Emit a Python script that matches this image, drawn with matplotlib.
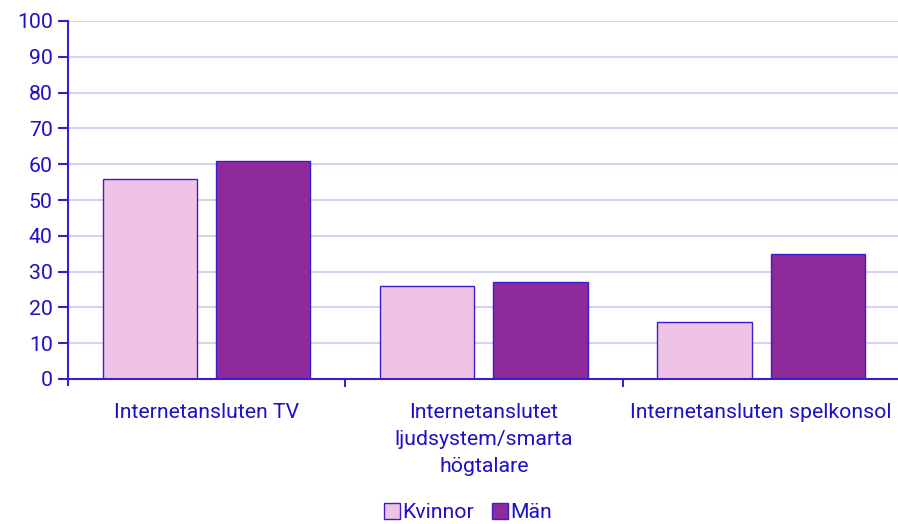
import matplotlib
matplotlib.use("Agg")
import matplotlib.pyplot as plt
import numpy as np
from matplotlib.patches import Patch

categories = ["Internetansluten TV", "Internetanslutet\nljudsystem/smarta\nhögtalare", "Internetansluten spelkonsol"]
series_names = ["Kvinnor", "Män"]
kvinnor = [56, 26, 16]
man = [61, 27, 35]
yticks = [0, 10, 20, 30, 40, 50, 60, 70, 80, 90, 100]

text_color = "#1E10C4"
edge_color = "#3A1FD0"
colors = ["#EFC3E6", "#8F2A9A"]
grid_color = "#D4D4EE"

plt.rcParams['font.family'] = ['Roboto', 'DejaVu Sans']
fs = 15.3

fig = plt.figure(figsize=(8.98, 5.24), dpi=100)
ax = fig.add_axes([68/898, 1 - 379/524, 1 - 68/898 + 0.002, 358/524])

x = np.arange(len(categories))
w = 0.34
off = 0.204
ax.bar(x - off, kvinnor, w, color=colors[0], edgecolor=edge_color, linewidth=1.0, zorder=3)
ax.bar(x + off, man, w, color=colors[1], edgecolor=edge_color, linewidth=1.0, zorder=3)

ax.set_xlim(-0.5, 2.5)
ax.set_ylim(0, 100)
ax.set_yticks(yticks)
ax.set_yticklabels([str(t) for t in yticks], fontsize=fs, color=text_color)
ax.yaxis.grid(True, color=grid_color, linewidth=1.5, zorder=0)
ax.set_axisbelow(True)

ax.set_xticks(x)
ax.set_xticklabels(categories, fontsize=fs, color=text_color, linespacing=1.53)
ax.tick_params(axis='x', which='major', length=0, pad=17)
ax.set_xticks([0.5, 1.5], minor=True)
ax.tick_params(axis='x', which='minor', length=6, width=1.5, color=edge_color, direction='out')
ax.tick_params(axis='y', length=7, width=1.5, color=edge_color, pad=4)

for s in ['top', 'right']:
    ax.spines[s].set_visible(False)
for s in ['left', 'bottom']:
    ax.spines[s].set_color(edge_color)
    ax.spines[s].set_linewidth(1.5)
ax.spines['left'].set_bounds(-1.7, 100)
ax.spines['left'].set_zorder(4)
ax.spines['bottom'].set_zorder(4)

handles = [Patch(facecolor=colors[0], edgecolor=edge_color, label=series_names[0]),
           Patch(facecolor=colors[1], edgecolor=edge_color, label=series_names[1])]
leg = fig.legend(handles=handles, loc='lower center', bbox_to_anchor=(0.521, -0.033), ncol=2,
                 frameon=False, fontsize=fs, handlelength=0.75, handleheight=0.75,
                 handletextpad=0.1, columnspacing=0.85)
for t in leg.get_texts():
    t.set_color(text_color)

fig.savefig("out.png", dpi=100)
